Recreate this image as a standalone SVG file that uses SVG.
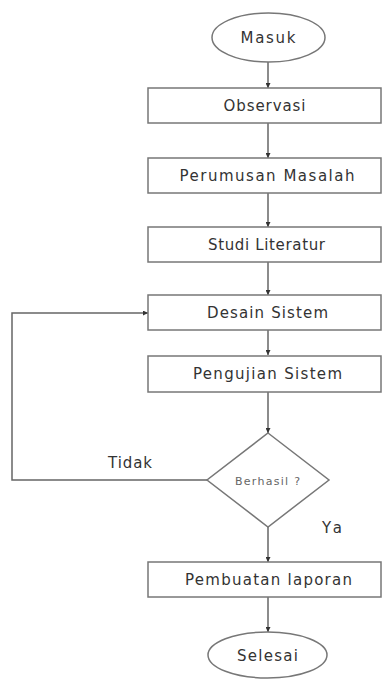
<svg xmlns="http://www.w3.org/2000/svg" width="383" height="680" viewBox="0 0 383 680">
<style>
.shape{fill:#ffffff;stroke:#777777;stroke-width:1.5}
.lbl{font-family:"DejaVu Sans",Verdana,sans-serif;font-size:15px;fill:#333333;text-anchor:middle}
.small{font-family:"DejaVu Sans",Verdana,sans-serif;font-size:11px;fill:#666666;text-anchor:middle}
.edge{fill:none;stroke:#666666;stroke-width:1.5}
</style>
<defs>
<marker id="arr" viewBox="0 0 10 10" refX="10" refY="5" markerWidth="5" markerHeight="5" orient="auto" markerUnits="userSpaceOnUse">
<path d="M0,0 L10,5 L0,10 z" fill="#333333"/>
</marker>
</defs>
<rect width="383" height="680" fill="#ffffff"/>
<g id="connectors">
<line class="edge" x1="268" y1="62" x2="268" y2="88" marker-end="url(#arr)"/>
<line class="edge" x1="268" y1="123" x2="268" y2="158" marker-end="url(#arr)"/>
<line class="edge" x1="268" y1="193" x2="268" y2="227" marker-end="url(#arr)"/>
<line class="edge" x1="268" y1="262" x2="268" y2="295" marker-end="url(#arr)"/>
<line class="edge" x1="268" y1="330" x2="268" y2="355" marker-end="url(#arr)"/>
<line class="edge" x1="268" y1="392" x2="268" y2="433" marker-end="url(#arr)"/>
<line class="edge" x1="268" y1="527" x2="268" y2="562" marker-end="url(#arr)"/>
<line class="edge" x1="268" y1="597" x2="268" y2="632" marker-end="url(#arr)"/>
<polyline class="edge" points="207,480 12,480 12,313 148,313" marker-end="url(#arr)"/>
<text class="lbl" x="130" y="468" textLength="44" lengthAdjust="spacing">Tidak</text>
<text class="lbl" x="332" y="533" textLength="20" lengthAdjust="spacing">Ya</text>
</g>
<g id="masuk">
<ellipse class="shape" cx="268.5" cy="37.5" rx="56.5" ry="24.5"/>
<text class="lbl" x="268" y="43" textLength="55" lengthAdjust="spacing">Masuk</text>
</g>
<g id="observasi">
<rect class="shape" x="148" y="88" width="233" height="35"/>
<text class="lbl" x="264.5" y="111" textLength="82" lengthAdjust="spacing">Observasi</text>
</g>
<g id="perumusan">
<rect class="shape" x="148" y="158" width="233" height="35"/>
<text class="lbl" x="267" y="181" textLength="175" lengthAdjust="spacing">Perumusan Masalah</text>
</g>
<g id="studi">
<rect class="shape" x="148" y="227" width="233" height="35"/>
<text class="lbl" x="266.5" y="250" textLength="117" lengthAdjust="spacing">Studi Literatur</text>
</g>
<g id="desain">
<rect class="shape" x="148" y="295" width="233" height="35"/>
<text class="lbl" x="267.5" y="318" textLength="121" lengthAdjust="spacing">Desain Sistem</text>
</g>
<g id="pengujian">
<rect class="shape" x="148" y="356" width="233" height="36"/>
<text class="lbl" x="267.5" y="379" textLength="149" lengthAdjust="spacing">Pengujian Sistem</text>
</g>
<g id="berhasil">
<polygon class="shape" points="268,433 329,480 268,527 207,480"/>
<text class="small" x="267.5" y="485" textLength="65" lengthAdjust="spacing">Berhasil ?</text>
</g>
<g id="pembuatan">
<rect class="shape" x="148" y="562" width="233" height="35"/>
<text class="lbl" x="268.5" y="585" textLength="167" lengthAdjust="spacing">Pembuatan laporan</text>
</g>
<g id="selesai">
<ellipse class="shape" cx="267.5" cy="655" rx="59.5" ry="23"/>
<text class="lbl" x="267.5" y="660.5" textLength="61" lengthAdjust="spacing">Selesai</text>
</g>
</svg>
